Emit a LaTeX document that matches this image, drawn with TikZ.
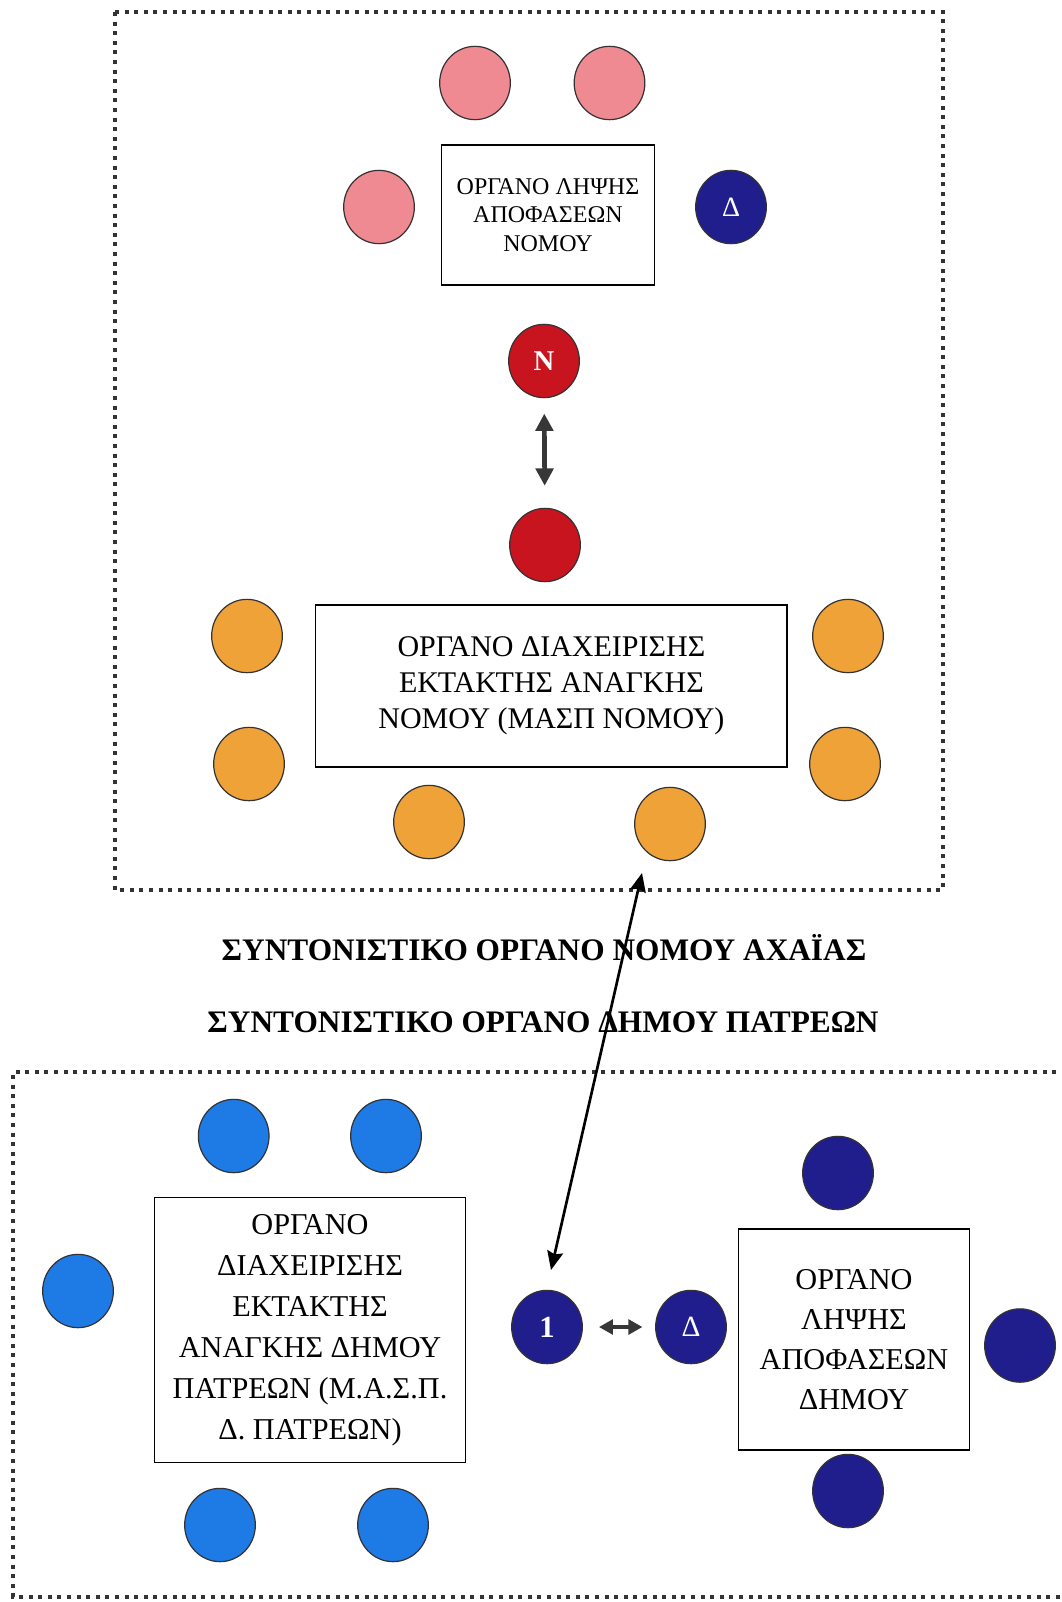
\documentclass[tikz,border=0pt]{standalone}
\usepackage{fontspec}
\setmainfont{Liberation Serif}
\usetikzlibrary{shapes.geometric,arrows.meta}

\definecolor{seatpink}{RGB}{240,138,146}
\definecolor{seatnavy}{RGB}{32,30,140}
\definecolor{seatred}{RGB}{200,20,30}
\definecolor{seatorange}{RGB}{238,162,56}
\definecolor{seatblue}{RGB}{30,122,228}
\definecolor{arrowgray}{RGB}{55,55,55}

\begin{document}
\begin{tikzpicture}[x=0.75pt,y=-0.75pt,
  seat/.style={ellipse,draw=black!80,line width=0.9pt,minimum width=53pt,
               minimum height=55pt,inner sep=0pt,text=white},
  panel/.style={draw=black,line width=1.1pt,align=center,inner sep=0pt},
  frame/.style={draw=black!80,line width=3pt,dash pattern=on 3pt off 4.2pt},
  heading/.style={font=\fontsize{23.5}{28}\selectfont\bfseries},
  link/.style={line width=2pt,{Stealth[length=14pt,width=12pt,inset=2pt]}-{Stealth[length=14pt,width=12pt,inset=2pt]}},
  vlink/.style={arrowgray,line width=3.5pt,{Triangle[length=13pt,width=13pt]}-{Triangle[length=13pt,width=13pt]}},
  hlink/.style={arrowgray,line width=3pt,{Triangle[length=10.5pt,width=11pt]}-{Triangle[length=10.5pt,width=11pt]}},
]
\useasboundingbox[fill=white] (0,0) rectangle (1062,1602);

% ---------- prefecture level ----------
\draw[frame] (115,12) rectangle (943,890);

\node[panel,minimum width=159.4pt,minimum height=105pt,
      font=\fontsize{18}{21.4}\selectfont] (decN) at (548,215)
  {ΟΡΓΑΝΟ ΛΗΨΗΣ\\ΑΠΟΦΑΣΕΩΝ\\ΝΟΜΟΥ};

\node[seat,fill=seatpink] (pk1) at (475,83) {};
\node[seat,fill=seatpink] (pk2) at (609.5,83) {};
\node[seat,fill=seatpink] (pk3) at (379,207) {};
\node[seat,fill=seatnavy,font=\fontsize{21}{23}\selectfont] (dN) at (731,207) {Δ};

\node[seat,fill=seatred,font=\fontsize{21.5}{24}\selectfont\bfseries] (nN) at (544,361) {N};
\node[seat,fill=seatred] (rN) at (545,545) {};

\draw[vlink,shorten <=11.5pt,shorten >=16.5pt] (nN) -- (rN);

\node[panel,minimum width=353.5pt,minimum height=121.5pt,
      font=\fontsize{22.5}{27}\selectfont] (mgmtN) at (551.4,686)
  {ΟΡΓΑΝΟ ΔΙΑΧΕΙΡΙΣΗΣ\\ΕΚΤΑΚΤΗΣ ΑΝΑΓΚΗΣ\\ΝΟΜΟΥ (ΜΑΣΠ ΝΟΜΟΥ)};

\node[seat,fill=seatorange] (or1) at (247,636) {};
\node[seat,fill=seatorange] (or2) at (848,636) {};
\node[seat,fill=seatorange] (or3) at (249,764) {};
\node[seat,fill=seatorange] (or4) at (845,764) {};
\node[seat,fill=seatorange] (or5) at (429,822) {};
\node[seat,fill=seatorange] (or6) at (670,824) {};

% ---------- headings ----------
\node[heading] (h1) at (544,948) {ΣΥΝΤΟΝΙΣΤΙΚΟ ΟΡΓΑΝΟ ΝΟΜΟΥ ΑΧΑΪΑΣ};
\node[heading] (h2) at (543,1022) {ΣΥΝΤΟΝΙΣΤΙΚΟ ΟΡΓΑΝΟ ΔΗΜΟΥ ΠΑΤΡΕΩΝ};

% ---------- municipality level ----------
\draw[frame] (1066,1072) -- (13,1072) -- (13,1597) -- (1066,1597);

\node[panel,minimum width=233.6pt,minimum height=199pt,
      font=\fontsize{22.7}{30.75}\selectfont] (mgmtD) at (310,1330)
  {ΟΡΓΑΝΟ\\ΔΙΑΧΕΙΡΙΣΗΣ\\ΕΚΤΑΚΤΗΣ\\ΑΝΑΓΚΗΣ ΔΗΜΟΥ\\ΠΑΤΡΕΩΝ (Μ.Α.Σ.Π.\\Δ. ΠΑΤΡΕΩΝ)};

\node[seat,fill=seatblue] (lb1) at (233.7,1136) {};
\node[seat,fill=seatblue] (lb2) at (386,1136) {};
\node[seat,fill=seatblue] (lb3) at (78,1291) {};
\node[seat,fill=seatblue] (lb4) at (220,1525) {};
\node[seat,fill=seatblue] (lb5) at (393,1525) {};

\node[seat,fill=seatnavy,font=\fontsize{23}{25}\selectfont\bfseries] (one) at (547,1327) {1};
\node[seat,fill=seatnavy,font=\fontsize{22}{24}\selectfont] (dD) at (691,1327) {Δ};

\draw[hlink,shorten <=12pt,shorten >=9.5pt] (one) -- (dD);

\node[panel,minimum width=173.6pt,minimum height=165.75pt,
      font=\fontsize{22.7}{30}\selectfont] (decD) at (854,1339.5)
  {ΟΡΓΑΝΟ\\ΛΗΨΗΣ\\ΑΠΟΦΑΣΕΩΝ\\ΔΗΜΟΥ};

\node[seat,fill=seatnavy] (nv1) at (838,1173) {};
\node[seat,fill=seatnavy] (nv2) at (1020,1345.5) {};
\node[seat,fill=seatnavy] (nv3) at (848,1491) {};

% ---------- link between the two levels ----------
\coordinate (upper) at (642,873);
\coordinate (lower) at (551,1270);
\draw[link] (upper) -- (lower);

\end{tikzpicture}
\end{document}
